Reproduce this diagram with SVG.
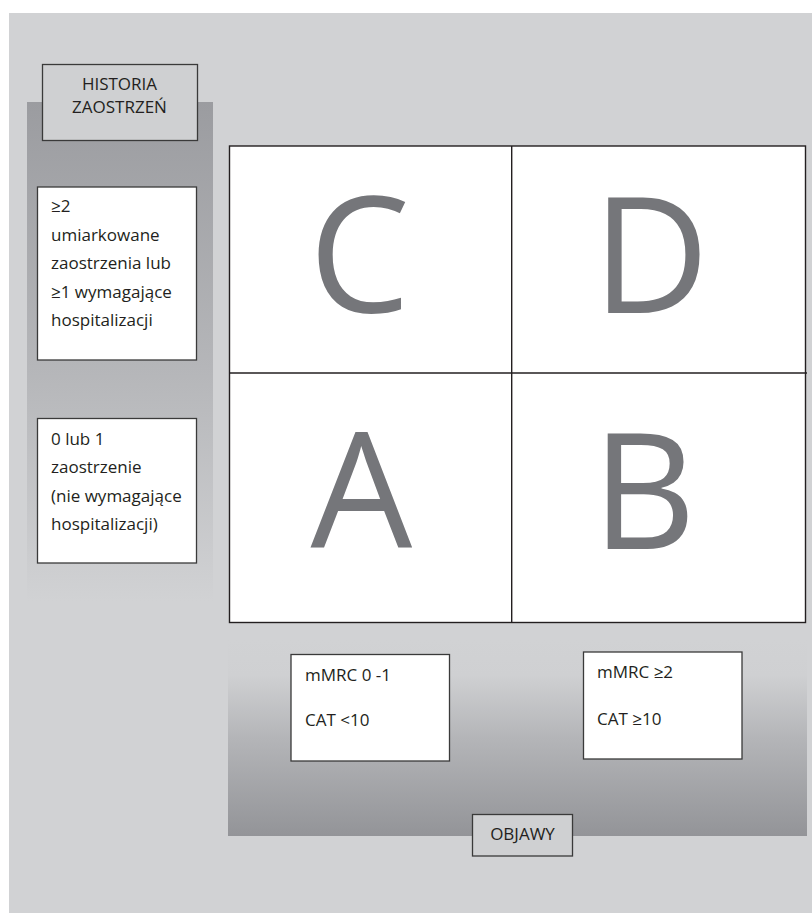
<svg xmlns="http://www.w3.org/2000/svg" width="812" height="913" viewBox="0 0 812 913">
  <defs>
    <linearGradient id="gLeft" x1="0" y1="0" x2="0" y2="1">
      <stop offset="0" stop-color="#9b9ca0"/>
      <stop offset="0.55" stop-color="#b6b7ba"/>
      <stop offset="1" stop-color="#d1d2d4"/>
    </linearGradient>
    <linearGradient id="gBottom" x1="0" y1="0" x2="0" y2="1">
      <stop offset="0" stop-color="#d1d2d4"/>
      <stop offset="0.18" stop-color="#cfd0d2"/>
      <stop offset="0.5" stop-color="#b4b5b8"/>
      <stop offset="1" stop-color="#939498"/>
    </linearGradient>
    <style>
      .box { fill: #ffffff; stroke: #3a3a3a; stroke-width: 1.3; }
      .label { fill: #cfd0d2; stroke: #3a3a3a; stroke-width: 1.3; }
      .t { font-family: "Open Sans", "Liberation Sans", sans-serif; font-size: 17px; fill: #231f20; }
      .big { font-family: "Open Sans", "Liberation Sans", sans-serif; font-size: 161px; fill: #75767a; text-anchor: middle; }
      .grid { fill: none; stroke: #231f20; stroke-width: 1.4; }
    </style>
  </defs>

  <rect x="0" y="0" width="812" height="913" fill="#ffffff"/>
  <rect x="9" y="13" width="803" height="900" fill="#d1d2d4"/>
  <rect x="27" y="102" width="186" height="500" fill="url(#gLeft)"/>
  <rect x="228" y="640" width="579" height="196" fill="url(#gBottom)"/>

  <g id="historia">
    <rect class="label" x="42.5" y="64.5" width="155" height="76"/>
    <text class="t" x="119.5" y="90" text-anchor="middle">HISTORIA</text>
    <text class="t" x="119.5" y="113" text-anchor="middle">ZAOSTRZEŃ</text>
  </g>

  <g id="exac-high">
    <rect class="box" x="37.5" y="187" width="159" height="173"/>
    <text class="t" x="51" y="212">≥2</text>
    <text class="t" x="51" y="241">umiarkowane</text>
    <text class="t" x="51" y="269">zaostrzenia lub</text>
    <text class="t" x="51" y="298">≥1 wymagające</text>
    <text class="t" x="51" y="326">hospitalizacji</text>
  </g>

  <g id="exac-low">
    <rect class="box" x="37.5" y="418.5" width="159" height="144.5"/>
    <text class="t" x="51" y="445">0 lub 1</text>
    <text class="t" x="51" y="473">zaostrzenie</text>
    <text class="t" x="51" y="502">(nie wymagające</text>
    <text class="t" x="51" y="530">hospitalizacji)</text>
  </g>

  <g id="grid">
    <rect x="229.5" y="146" width="576" height="476.5" fill="#ffffff"/>
    <g id="cell-C"><text class="big" x="359.5" y="312">C</text></g>
    <g id="cell-D"><text class="big" x="651" y="312.5">D</text></g>
    <g id="cell-A"><text class="big" x="361.5" y="548">A</text></g>
    <g id="cell-B"><text class="big" x="644" y="549">B</text></g>
    <rect class="grid" x="229.5" y="146" width="576" height="476.5"/>
    <line class="grid" x1="511.7" y1="146" x2="511.7" y2="622.5"/>
    <line class="grid" x1="229.5" y1="373" x2="807" y2="373"/>
  </g>

  <g id="sym-low">
    <rect class="box" x="291" y="654.5" width="158.5" height="106.5"/>
    <text class="t" x="305" y="681">mMRC 0 -1</text>
    <text class="t" x="305" y="726">CAT &lt;10</text>
  </g>

  <g id="sym-high">
    <rect class="box" x="583.5" y="652" width="158.5" height="107"/>
    <text class="t" x="597" y="678">mMRC ≥2</text>
    <text class="t" x="597" y="725">CAT ≥10</text>
  </g>

  <g id="objawy">
    <rect class="label" x="472.5" y="814.5" width="100" height="41.5"/>
    <text class="t" x="522.5" y="839.5" text-anchor="middle">OBJAWY</text>
  </g>
</svg>
